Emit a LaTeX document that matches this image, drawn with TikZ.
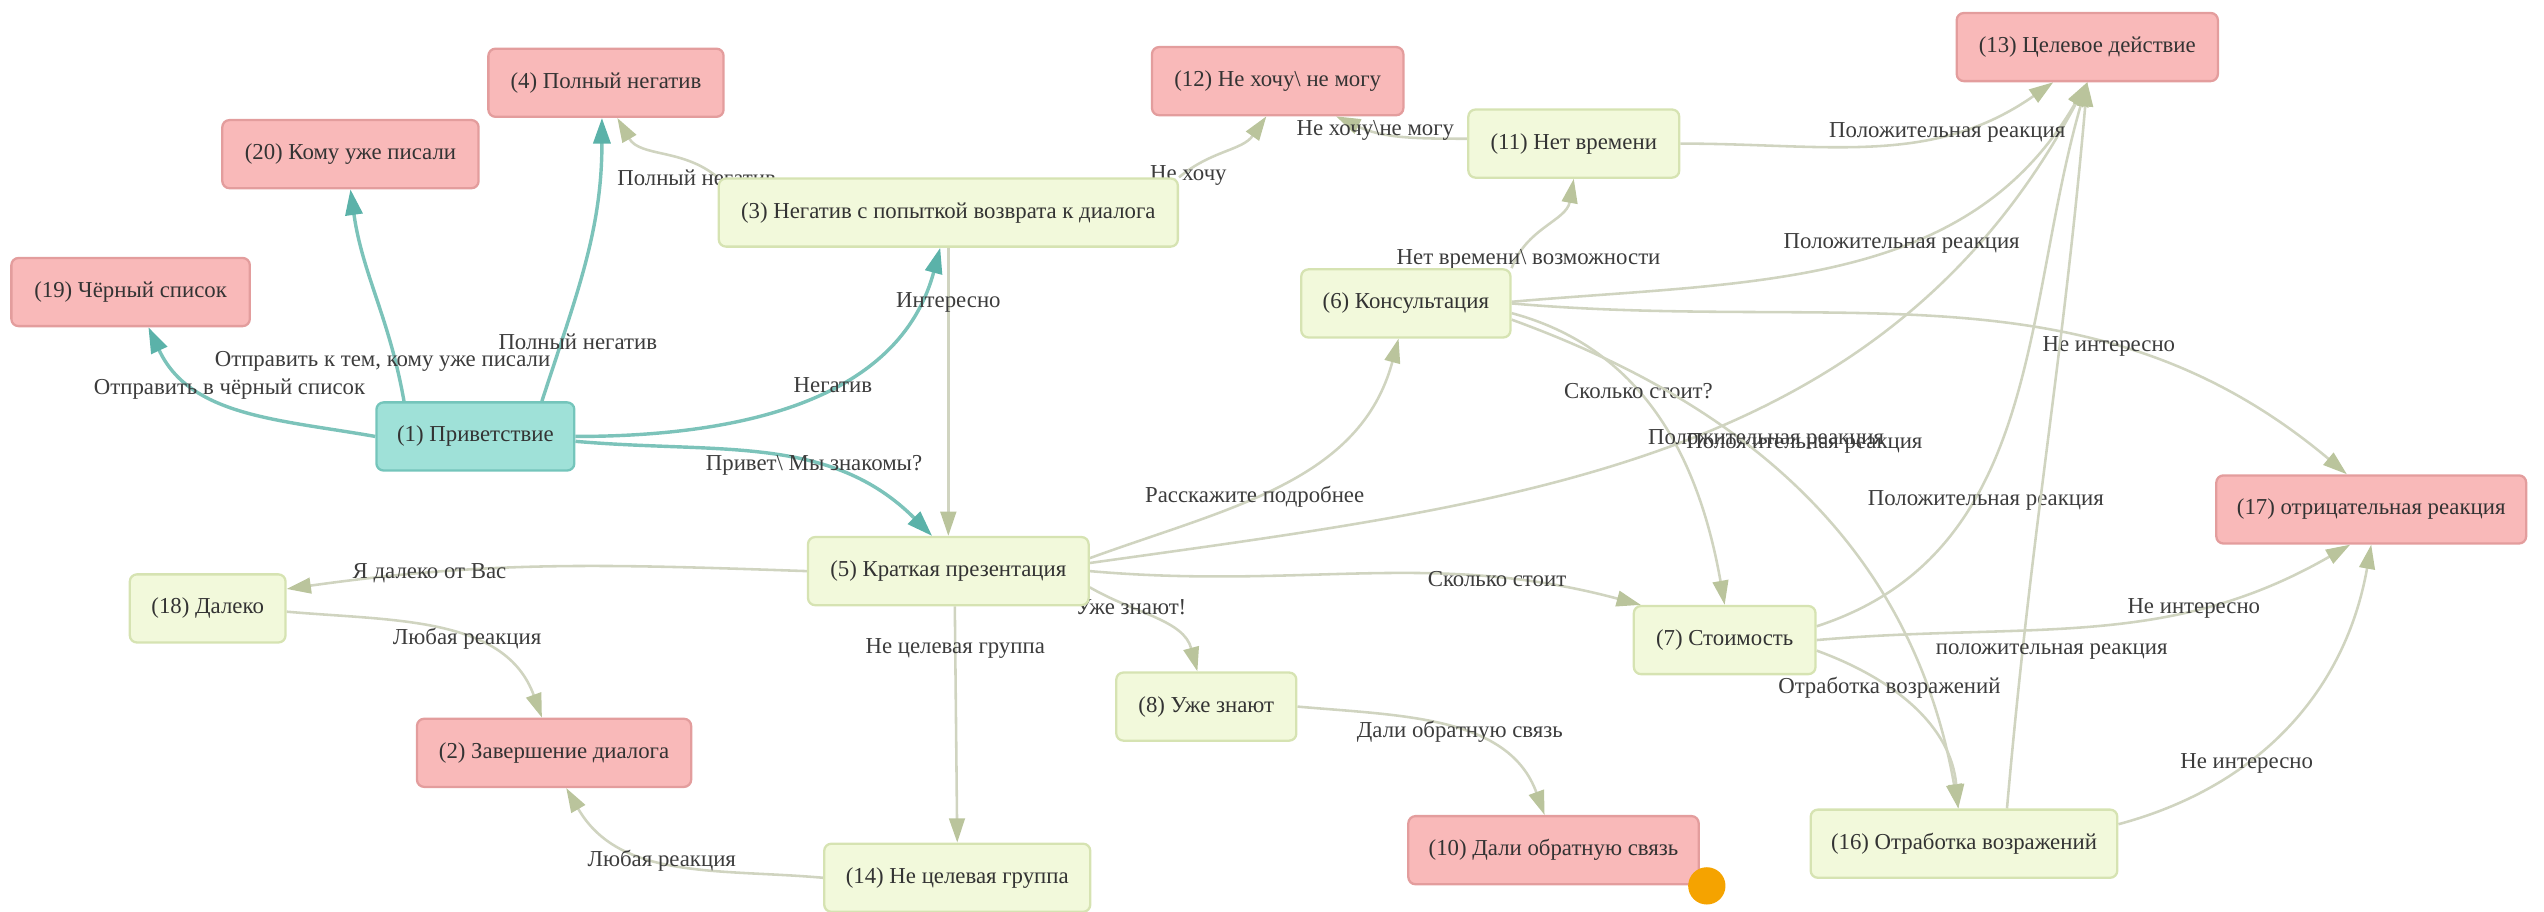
\documentclass[tikz,border=0pt]{standalone}
\usepackage{fontspec}
\setmainfont{Liberation Serif}
\usetikzlibrary{arrows.meta}
\pgfdeclarelayer{background}
\pgfsetlayers{background,main}

\definecolor{greenfill}{HTML}{F2F9DB}
\definecolor{greendraw}{HTML}{D6E3B2}
\definecolor{pinkfill}{HTML}{F9B9B9}
\definecolor{pinkdraw}{HTML}{E39D9D}
\definecolor{tealfill}{HTML}{9FE1D8}
\definecolor{tealdraw}{HTML}{74C5BB}
\definecolor{linkline}{HTML}{D0D4C0}
\definecolor{linktip}{HTML}{BAC49C}
\definecolor{teallink}{HTML}{7CC3BA}
\definecolor{tealtip}{HTML}{5BB2A9}
\definecolor{labeltext}{HTML}{3C3C3C}
\definecolor{dotorange}{HTML}{F5A300}

\begin{document}
\begin{tikzpicture}[
        x=0.02cm, y=-0.02cm,
        font=\fontsize{8}{9.6}\selectfont,
        box/.style={rectangle, rounded corners=2.5pt, line width=0.8pt, minimum height=0.84cm, inner xsep=2pt, text=black!80},
        startnode/.style={box, fill=tealfill, draw=tealdraw},
        midnode/.style={box, fill=greenfill, draw=greendraw},
        endnode/.style={box, fill=pinkfill, draw=pinkdraw},
        firstlink/.style={draw=teallink, line width=1.2pt, -{Triangle[length=9pt, width=6pt, color=tealtip]}},
        link/.style={draw=linkline, line width=0.9pt, -{Triangle[length=8.5pt, width=5.5pt, color=linktip]}},
        reply/.style={text=labeltext, inner sep=1pt},
    ]
    \useasboundingbox (0,0) rectangle (1568,562);

        % Draw the greeting node
        \node[startnode, minimum width=2.44cm] (n1) at (293,269) {(1) Приветствие};

        % Draw the dialogue steps
        \foreach \id/\x/\y/\w/\txt in {
            3/584.5/131/5.66/{Негатив с попыткой возврата к диалога},
            5/584.5/352/3.46/{Краткая презентация},
            6/866.5/187/2.58/{Консультация},
            7/1063/394.5/2.24/{Стоимость},
            8/743.5/435.5/2.22/{Уже знают},
            11/970/88.5/2.60/{Нет времени},
            14/590/541/3.28/{Не целевая группа},
            16/1210.5/520/3.78/{Отработка возражений},
            18/128/375/1.92/{Далеко}}
            \node[midnode, minimum width=\w cm] (n\id) at (\x,\y) {(\id) \txt};

        % Draw the end nodes
        \foreach \id/\x/\y/\w/\txt in {
            2/341.5/464/3.38/{Завершение диалога},
            4/373.5/51/2.90/{Полный негатив},
            10/957.5/524/3.58/{Дали обратную связь},
            12/787.5/50/3.10/{Не хочу\textbackslash{} не могу},
            13/1286.5/29/3.22/{Целевое действие},
            17/1461.5/314/3.82/{отрицательная реакция},
            19/80.5/180/2.94/{Чёрный список},
            20/216/95/3.16/{Кому уже писали}}
            \node[endnode, minimum width=\w cm] (n\id) at (\x,\y) {(\id) \txt};

        \node[circle, fill=dotorange, minimum size=0.46cm, inner sep=0pt] (dot) at (1052,546) {};

    \begin{pgfonlayer}{background}
        % Links from the greeting
        \draw[firstlink] (n1.west) to[out=170, in=-65] node[reply, pos=0.55, above] {Отправить в чёрный список} ([xshift=0.22cm]n19.south);
        \draw[firstlink] ([xshift=-0.88cm]n1.north) to[out=100, in=-82] node[reply, pos=0.17, xshift=-0.16cm] {Отправить к тем, кому уже писали} (n20.south);
        \draw[firstlink] ([xshift=0.82cm]n1.north) to[out=72, in=-90] node[reply, pos=0.2, xshift=0.2cm] {Полный негатив} ([xshift=-0.05cm]n4.south);
        \draw[firstlink] (n1.east) to[out=0, in=-105] node[reply, pos=0.58] {Негатив} ([xshift=-0.1cm]n3.south);
        \draw[firstlink] ([yshift=-0.06cm]n1.east) to[out=-5, in=135] node[reply, pos=0.63] {Привет\textbackslash{} Мы знакомы?} ([xshift=-0.2cm]n5.north);

        % Links from the negative with a way back
        \draw[link] (n3.north west) to[out=140, in=-60] node[reply, pos=0, xshift=-0.26cm] {Полный негатив} ([xshift=0.14cm]n4.south);
        \draw[link] (n3.north east) to[out=40, in=-125] node[reply, pos=0.03, xshift=0.08cm] {Не хочу} ([xshift=-0.14cm]n12.south);
        \draw[link] (n3.south) -- node[reply, pos=0.19] {Интересно} (n5.north);

        % Links from the short presentation
        \draw[link] (n5.west) to[out=178, in=8] node[reply, pos=0.74] {Я далеко от Вас} ([yshift=0.24cm]n18.east);
        \draw[link] ([yshift=0.16cm]n5.east) to[out=20, in=-105] node[reply, pos=0.42] {Расскажите подробнее} ([xshift=-0.09cm]n6.south);
        \draw[link] ([yshift=0.1cm]n5.east) to[out=8, in=-118] node[reply, pos=0.5, xshift=1.62cm] {Положительная реакция} (n13.south);
        \draw[link] (n5.east) to[out=-5, in=165] node[reply, pos=0.75] {Сколько стоит} ([xshift=0.1cm]n7.north west);
        \draw[link] ([yshift=-0.2cm]n5.east) to[out=-30, in=105] node[reply, pos=0.3] {Уже знают!} ([xshift=-0.11cm]n8.north);
        \draw[link] ([xshift=0.08cm]n5.south) -- node[reply, pos=0.18] {Не целевая группа} (n14.north);

        % Links into the end of dialogue
        \draw[link] ([yshift=-0.04cm]n18.east) to[out=-5, in=110] node[reply, pos=0.6] {Любая реакция} ([xshift=-0.15cm]n2.north);
        \draw[link] (n14.west) to[out=175, in=-60] node[reply, pos=0.55] {Любая реакция} ([xshift=0.15cm]n2.south);
        \draw[link] (n8.east) to[out=-5, in=110] node[reply, pos=0.55] {Дали обратную связь} ([xshift=-0.11cm]n10.north);

        % Links from the consultation
        \draw[link] (n6.north east) to[out=70, in=-100] node[reply, pos=0.08, xshift=0.16cm] {Нет времени\textbackslash{} возможности} (n11.south);
        \draw[link] ([yshift=0.02cm]n6.east) to[out=5, in=-120] node[reply, pos=0.6] {Положительная реакция} (n13.south);
        \draw[link] (n6.east) to[out=-5, in=140] node[reply, pos=0.69] {Не интересно} ([xshift=-0.3cm]n17.north);
        \draw[link] ([yshift=-0.12cm]n6.east) to[out=-15, in=100] node[reply, pos=0.4] {Сколько стоит?} (n7.north);
        \draw[link] ([yshift=-0.2cm]n6.east) to[out=-20, in=100] node[reply, pos=0.36, xshift=0.32cm] {Положительная реакция} ([xshift=-0.07cm]n16.north);

        % Links from the lack of time
        \draw[link] ([yshift=0.06cm]n11.west) to[out=180, in=-25] node[reply, pos=0.7] {Не хочу\textbackslash{}не могу} ([xshift=0.72cm]n12.south);
        \draw[link] (n11.east) to[out=0, in=-145] node[reply, pos=0.7] {Положительная реакция} ([xshift=-0.42cm]n13.south);

        % Links from the price
        \draw[link] ([yshift=0.17cm]n7.east) to[out=18, in=-106] node[reply, pos=0.34, xshift=0.14cm] {Положительная реакция} (n13.south);
        \draw[link] (n7.east) to[out=5, in=-150] node[reply, pos=0.7] {Не интересно} ([xshift=-0.26cm]n17.south);
        \draw[link] ([yshift=-0.13cm]n7.east) to[out=-20, in=95] node[reply, pos=0.35] {Отработка возражений} ([xshift=-0.07cm]n16.north);

        % Links from the objection handling
        \draw[link] ([xshift=0.53cm]n16.north) to[out=85, in=-95] node[reply, pos=0.2, xshift=0.36cm] {положительная реакция} (n13.south);
        \draw[link] ([yshift=0.24cm]n16.east) to[out=15, in=-100] node[reply, pos=0.35] {Не интересно} (n17.south);
    \end{pgfonlayer}
\end{tikzpicture}
\end{document}
